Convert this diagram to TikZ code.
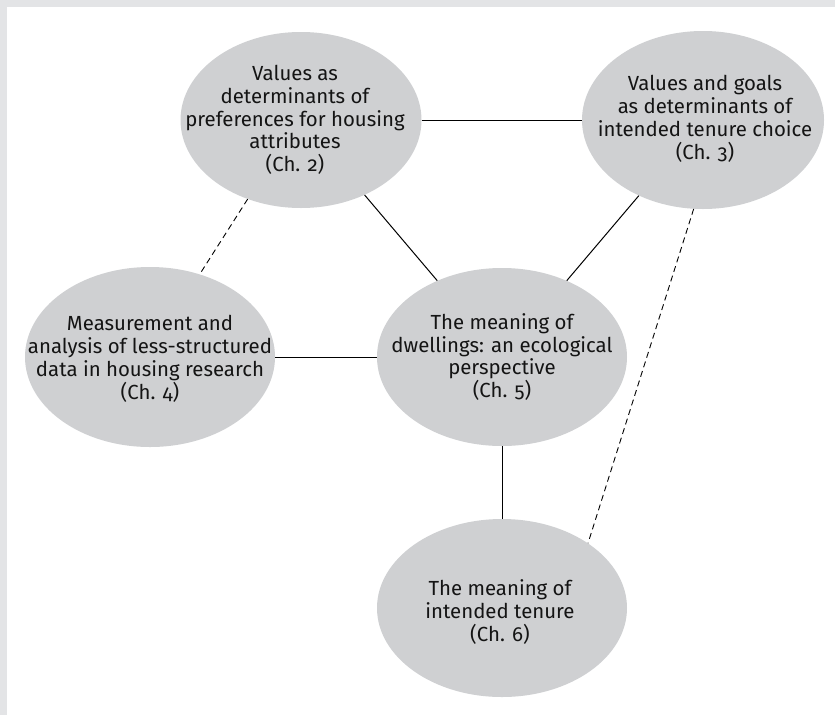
\documentclass[tikz,border=0pt]{standalone}
\usepackage{fontspec}
\setmainfont{Fira Sans}[Numbers=OldStyle]
\usetikzlibrary{shapes.geometric}

\definecolor{framegray}{RGB}{227,228,230}
\definecolor{bubblegray}{RGB}{207,208,210}
\definecolor{ink}{RGB}{20,20,20}

\tikzset{
  bubble/.style 2 args={ellipse, fill=bubblegray, draw=none, inner sep=0pt,
    minimum width=#1, minimum height=#2},
  label text/.style={align=center, text=ink, inner sep=0pt,
    font=\fontsize{20.4}{22.8}\selectfont},
  link/.style={draw=black, line width=1pt},
  weaklink/.style={draw=black, line width=0.9pt, dash pattern=on 6pt off 4pt},
}

\begin{document}
\begin{tikzpicture}[x=1pt, y=-1pt]
  % page frame: grey band along the top and left edges
  \fill[framegray] (0,0) rectangle (835,715);
  \fill[white] (7,7) rectangle (835,715);
  \useasboundingbox (0,0) rectangle (835,715);

  % chapter bubbles
  \node[bubble={241pt}{176pt}] (c2) at (301,120) {};
  \node[bubble={242pt}{178pt}] (c3) at (703,120) {};
  \node[bubble={250pt}{180pt}] (c4) at (150,357) {};
  \node[bubble={250pt}{178pt}] (c5) at (502,357) {};
  \node[bubble={250pt}{178pt}] (c6) at (502,608) {};

  % chapter titles
  \node[label text] (t2) at (295,120) {Values as\\determinants of\\preferences for housing\\attributes\\(Ch. 2)};
  \node[label text] (t3) at (705,119) {Values and goals\\as determinants of\\intended tenure choice\\(Ch. 3)};
  \node[label text] (t4) at (150,359) {Measurement and\\analysis of less-structured\\data in housing research\\(Ch. 4)};
  \node[label text] (t5) at (502,357) {The meaning of\\dwellings: an ecological\\perspective\\(Ch. 5)};
  \node[label text] (t6) at (500,612) {The meaning of\\intended tenure\\(Ch. 6)};

  % solid links
  \draw[link] (c2) -- (c3);
  \draw[link] (c2) -- (c5);
  \draw[link] (c3) -- (c5);
  \draw[link] (c4) -- (c5);
  \draw[link] (c5) -- (c6);

  % dashed links
  \draw[weaklink] (c2.236) -- (c4.59);
  \draw[weaklink] (c3.264) -- (c6.37);
\end{tikzpicture}
\end{document}
